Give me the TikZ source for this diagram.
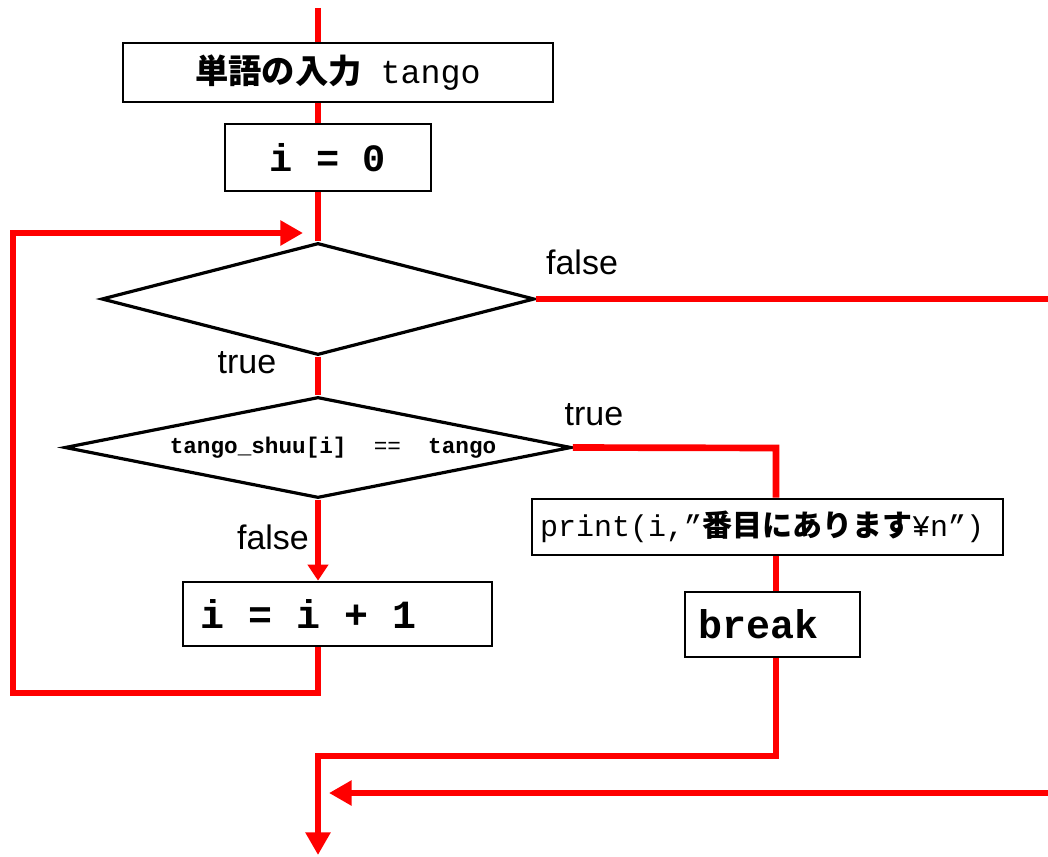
\documentclass[tikz,border=0pt]{standalone}
\usepackage{fontspec}
\setmainfont{Liberation Sans}
\setmonofont{Liberation Mono}
\newfontfamily\jpfont{Noto Sans CJK JP}
\usetikzlibrary{arrows.meta,shapes.geometric}
\begin{document}
\begin{tikzpicture}[x=0.75pt,y=-0.75pt,
  flow/.style={red, line width=5pt},
  box/.style={draw=black, line width=2pt, fill=white, inner sep=0pt},
  dia/.style={draw=black, line width=2.4pt, diamond, aspect=5, inner sep=0pt},
  lbl/.style={font=\fontsize{25.5}{30}\selectfont, inner sep=0pt},
  bigtip/.style={-{Triangle[length=17pt,width=18pt]}},
  smalltip/.style={-{Triangle[length=12pt,width=15pt]}},
]
\useasboundingbox (0,0) rectangle (1048,856);

% nodes
\node[box, minimum width=322.5pt, minimum height=44.25pt, font=\fontsize{25}{29}\selectfont] (input) at (338,72.5) {{\jpfont\bfseries 単語の入力}\hspace{14pt}\texttt{tango}};
\node[box, minimum width=154.5pt, minimum height=50.25pt, font=\ttfamily\bfseries\fontsize{29}{34}\selectfont] (init) at (328,157.5) {i = 0};
\node[dia, minimum width=324.75pt, minimum height=84pt] (cond) at (318,299) {};
\node[dia, minimum width=380pt, minimum height=75.75pt] (cmp) at (318,447.5) {};
\node[font=\ttfamily\bfseries\fontsize{17}{20}\selectfont, inner sep=0pt] (cmptext) at (333,448) {tango\_shuu[i]\ \ {\mdseries ==}\ \ tango};
\node[box, minimum width=231.75pt, minimum height=48pt, inner xsep=12.75pt, text width=206.25pt, align=left, font=\ttfamily\bfseries\fontsize{30}{34}\selectfont] (inc) at (337.5,614) {\spaceskip=0pt\xspaceskip=0pt\relax i = i + 1};
\node[box, minimum width=353.25pt, minimum height=42pt, inner xsep=6pt, text width=341.25pt, align=left, font=\ttfamily\fontsize{22.5}{27}\selectfont] (prt) at (767.5,527) {print(i,”{\jpfont\bfseries 番目にあります}¥n”)};
\node[box, minimum width=131.25pt, minimum height=48.75pt, inner xsep=9.75pt, text width=111.75pt, align=left, font=\ttfamily\bfseries\fontsize{30}{34}\selectfont] (brk) at (772.5,624.5) {break};

% labels
\node[lbl] (lfalse1) at (582,262) {false};
\node[lbl] (ltrue1) at (247,363) {true};
\node[lbl] (ltrue2) at (594,415) {true};
\node[lbl] (lfalse2) at (273,537) {false};

% coordinates
\coordinate (start) at (318,8);
\coordinate (looptip) at (303,233);
\coordinate (loopTL) at (13,233);
\coordinate (loopBL) at (13,693);
\coordinate (loopBR) at (318,693);
\coordinate (falseEnd) at (1048,299);
\coordinate (tcorner) at (776,448);
\coordinate (bcorner) at (776,756);
\coordinate (mcorner) at (318,756);
\coordinate (endtip) at (318,855);
\coordinate (retStart) at (1048,793);
\coordinate (retTip) at (329,793);

% connectors
\draw[flow] (start) -- (start |- input.north);
\draw[flow] (start |- input.south) -- (start |- init.north);
\draw[flow] (start |- init.south) -- (cond.north);
\draw[flow] (cond.south) -- (cmp.north);
\draw[flow] (cond.east) -- (falseEnd);
\draw[flow] (cmp.east) -- (tcorner) -- (prt.north -| tcorner);
\draw[flow] (prt.south -| tcorner) -- (brk.north -| tcorner);
\draw[flow, bigtip] (brk.south -| tcorner) -- (bcorner) -- (mcorner) -- (endtip);
\draw[flow, smalltip] (cmp.south) -- (cmp.south |- inc.north);
\draw[flow, bigtip] (cmp.south |- inc.south) -- (loopBR) -- (loopBL) -- (loopTL) -- (looptip);
\draw[flow, bigtip] (retStart) -- (retTip);
\end{tikzpicture}
\end{document}
